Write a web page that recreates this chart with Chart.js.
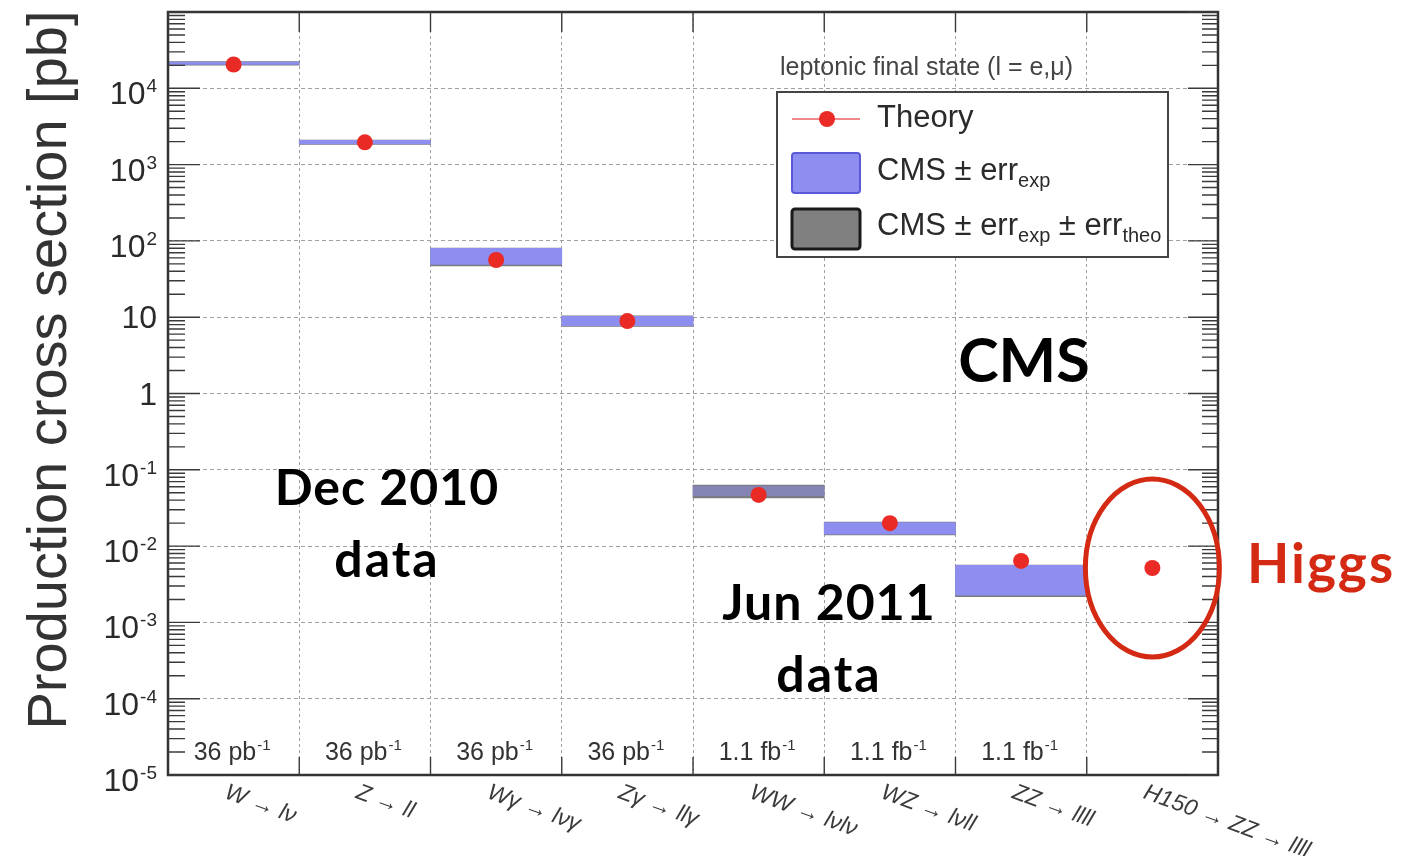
<!DOCTYPE html>
<html>
<head>
<meta charset="utf-8">
<title>Production cross sections</title>
<script src="https://cdn.jsdelivr.net/npm/chart.js@4.4.1/dist/chart.umd.min.js"></script>
<style>
  html, body { margin: 0; padding: 0; background: #ffffff; }
  #wrap { width: 1422px; height: 856px; position: relative; }
</style>
</head>
<body>
<div id="wrap"><canvas id="xsec" width="1422" height="856"></canvas></div>
<script>
// Processes (leptonic final states) and integrated luminosity per measurement
const processes = ['W → lν', 'Z → ll', 'Wγ → lνγ', 'Zγ → llγ', 'WW → lνlν', 'WZ → lνll', 'ZZ → llll', 'H150 → ZZ → llll'];
const lumiValue = ['36', '36', '36', '36', '1.1', '1.1', '1.1', ''];
const lumiUnit  = ['pb', 'pb', 'pb', 'pb', 'fb', 'fb', 'fb', ''];

// Theory prediction [pb]
const theory   = [20500, 1960, 56.2, 8.9, 0.0468, 0.0200, 0.0064, 0.00516];
// CMS measurement band, experimental uncertainty only [pb]
const expLow   = [20500, 1860, 49.0, 7.75, 0.0455, 0.0143, 0.00228, null];
const expHigh  = [22000, 2080, 80.0, 10.3, 0.0610, 0.0203, 0.00560, null];
// CMS measurement band, experimental and theoretical uncertainty [pb]
const totLow   = [20100, 1834, 46.9, 7.55, 0.0427, 0.0140, 0.00218, null];
const totHigh  = [22400, 2100, 80.7, 10.4, 0.0632, 0.0206, 0.00565, null];

// Decade ticks of the cross-section axis (exponents of 10)
const yTickExponents = [-5, -4, -3, -2, -1, 0, 1, 2, 3, 4];
const yMinExp = -5, yMaxExp = 5;

const annotations = {
  legendTitle: 'leptonic final state (l = e,μ)',
  experiment: 'CMS',
  period1: ['Dec 2010', 'data'],
  period2: ['Jun 2011', 'data'],
  highlight: 'Higgs'
};

const BLUE = '#8e8ef0';
const GREY = '#7a7a7a';
const RED = '#ea2a24';
const HIGGS_RED = '#d42a14';
const INK = '#333333';
const SANS = '"Liberation Sans", Arial, Helvetica, sans-serif';
const BOLD = '"Lato", "Open Sans", sans-serif';

// Blue band is see-through where the total band dominates (WW)
const expColors = processes.map((p, i) => i === 4 ? 'rgba(142,142,240,0.5)' : BLUE);

const bands = (lo, hi) => lo.map((v, i) => (v === null ? null : [v, hi[i]]));

const decor = {
  id: 'decor',
  afterDraw(chart) {
    const { ctx, chartArea: a, scales: { x, y } } = chart;
    ctx.save();

    // ---- frame ----
    ctx.strokeStyle = INK;
    ctx.lineWidth = 2.5;
    ctx.strokeRect(a.left, a.top, a.right - a.left, a.bottom - a.top);

    // ---- y ticks, left and right ----
    ctx.lineWidth = 1.4;
    ctx.strokeStyle = '#3a3a3a';
    ctx.beginPath();
    for (let e = yMinExp; e <= yMaxExp; e++) {
      const py = y.getPixelForValue(Math.pow(10, e));
      ctx.moveTo(a.left, py); ctx.lineTo(a.left + 32, py);
      ctx.moveTo(a.right, py); ctx.lineTo(a.right - 30, py);
      if (e < yMaxExp) {
        for (let k = 2; k <= 9; k++) {
          const pm = y.getPixelForValue(k * Math.pow(10, e));
          ctx.moveTo(a.left, pm); ctx.lineTo(a.left + 17, pm);
          ctx.moveTo(a.right, pm); ctx.lineTo(a.right - 16, pm);
        }
      }
    }
    // x ticks at category boundaries, top and bottom
    const step = (a.right - a.left) / processes.length;
    for (let i = 1; i < processes.length; i++) {
      const px = a.left + i * step;
      ctx.moveTo(px, a.top); ctx.lineTo(px, a.top + 20);
      ctx.moveTo(px, a.bottom); ctx.lineTo(px, a.bottom - 18);
    }
    ctx.stroke();

    // ---- y tick labels ----
    ctx.fillStyle = '#2a2a2a';
    ctx.textAlign = 'right';
    ctx.textBaseline = 'alphabetic';
    const labelRight = 157;
    yTickExponents.forEach(e => {
      const py = y.getPixelForValue(Math.pow(10, e));
      if (e === 0 || e === 1) {
        ctx.font = '32px ' + SANS;
        ctx.fillText(e === 0 ? '1' : '10', labelRight, py + 11);
      } else {
        ctx.font = '19px ' + SANS;
        const sup = String(e);
        ctx.fillText(sup, labelRight, py + 4);
        const w = ctx.measureText(sup).width;
        ctx.font = '32px ' + SANS;
        ctx.fillText('10', labelRight - w - 1, py + 16);
      }
    });

    // ---- y title ----
    ctx.save();
    ctx.translate(66, 370);
    ctx.rotate(-Math.PI / 2);
    ctx.textAlign = 'center';
    ctx.font = '56px ' + SANS;
    ctx.fillStyle = INK;
    ctx.fillText('Production cross section [pb]', 0, 0);
    ctx.restore();

    // ---- luminosity labels inside each column ----
    ctx.fillStyle = INK;
    processes.forEach((p, i) => {
      if (!lumiValue[i]) return;
      const cx = x.getPixelForValue(i);
      const main = lumiValue[i] + ' ' + lumiUnit[i];
      ctx.font = '25px ' + SANS;
      const wm = ctx.measureText(main).width;
      ctx.font = '15px ' + SANS;
      const ws = ctx.measureText('-1').width;
      const x0 = cx - (wm + ws) / 2 - 2;
      ctx.textAlign = 'left';
      ctx.font = '25px ' + SANS;
      ctx.fillText(main, x0, a.bottom - 15);
      ctx.font = '15px ' + SANS;
      ctx.fillText('-1', x0 + wm + 1, a.bottom - 25);
    });

    // ---- process labels, slanted ----
    ctx.fillStyle = '#3a3a3a';
    ctx.font = 'italic 23px ' + SANS;
    ctx.textAlign = 'left';
    ctx.textBaseline = 'top';
    processes.forEach((p, i) => {
      const cx = x.getPixelForValue(i);
      ctx.save();
      ctx.translate(cx - 4, a.bottom + 6);
      ctx.rotate(20 * Math.PI / 180);
      ctx.fillText(p, 0, 0);
      ctx.restore();
    });
    ctx.textBaseline = 'alphabetic';

    // ---- legend ----
    ctx.font = '25px ' + SANS;
    ctx.fillStyle = '#444';
    ctx.textAlign = 'left';
    ctx.fillText(annotations.legendTitle, 780, 75);

    ctx.fillStyle = '#ffffff';
    ctx.fillRect(777, 92, 391, 165);
    ctx.strokeStyle = '#444';
    ctx.lineWidth = 2;
    ctx.strokeRect(777, 92, 391, 165);

    // theory entry
    ctx.strokeStyle = '#f08a8a';
    ctx.lineWidth = 2;
    ctx.beginPath(); ctx.moveTo(792, 119); ctx.lineTo(860, 119); ctx.stroke();
    ctx.fillStyle = RED;
    ctx.beginPath(); ctx.arc(827, 119, 8, 0, Math.PI * 2); ctx.fill();

    // exp band entry
    ctx.fillStyle = BLUE;
    ctx.strokeStyle = '#5a5ad8';
    ctx.lineWidth = 2;
    ctx.beginPath(); ctx.roundRect(792, 153, 68, 40, 3); ctx.fill(); ctx.stroke();

    // total band entry
    ctx.fillStyle = '#808080';
    ctx.strokeStyle = '#1a1a1a';
    ctx.lineWidth = 3;
    ctx.beginPath(); ctx.roundRect(792, 209, 68, 40, 3); ctx.fill(); ctx.stroke();

    const seq = (parts, x0, base) => {
      let xx = x0;
      parts.forEach(([txt, sub]) => {
        ctx.font = (sub ? '20px ' : '31px ') + SANS;
        ctx.fillText(txt, xx, base + (sub ? 7 : 0));
        xx += ctx.measureText(txt).width;
      });
    };
    ctx.fillStyle = '#2a2a2a';
    seq([['Theory', false]], 877, 127);
    seq([['CMS ± err', false], ['exp', true]], 877, 180);
    seq([['CMS ± err', false], ['exp', true], [' ± err', false], ['theo', true]], 877, 235);

    // ---- annotations ----
    ctx.textAlign = 'center';
    ctx.fillStyle = '#000';
    ctx.font = '700 61px ' + BOLD;
    ctx.fillText(annotations.experiment, 1024, 382);
    ctx.font = '700 50px ' + BOLD;
    ctx.letterSpacing = '1px';
    ctx.fillText(annotations.period1[0], 387, 505);
    ctx.fillText(annotations.period2[0], 829, 620);
    ctx.letterSpacing = '2px';
    ctx.fillText(annotations.period1[1], 387, 577);
    ctx.fillText(annotations.period2[1], 829, 692);

    ctx.fillStyle = HIGGS_RED;
    ctx.font = '700 55px ' + BOLD;
    ctx.letterSpacing = '2px';
    ctx.fillText(annotations.highlight, 1321, 583);
    ctx.letterSpacing = '0px';

    // circle around the Higgs prediction
    const hx = x.getPixelForValue(7);
    const hy = y.getPixelForValue(theory[7]);
    ctx.strokeStyle = HIGGS_RED;
    ctx.lineWidth = 5;
    ctx.beginPath();
    ctx.ellipse(hx, hy, 67, 89, 0, 0, Math.PI * 2);
    ctx.stroke();

    ctx.restore();
  }
};

new Chart(document.getElementById('xsec'), {
  data: {
    labels: processes,
    datasets: [
      {
        type: 'line',
        label: 'Theory',
        data: theory,
        showLine: false,
        pointRadius: 8,
        pointHoverRadius: 8,
        pointBackgroundColor: RED,
        pointBorderWidth: 0,
        order: 0
      },
      {
        type: 'bar',
        label: 'CMS ± err_exp',
        data: bands(expLow, expHigh),
        backgroundColor: expColors,
        borderWidth: 0,
        grouped: false,
        barPercentage: 1,
        categoryPercentage: 1,
        order: 1
      },
      {
        type: 'bar',
        label: 'CMS ± err_exp ± err_theo',
        data: bands(totLow, totHigh),
        backgroundColor: GREY,
        borderWidth: 0,
        grouped: false,
        barPercentage: 1,
        categoryPercentage: 1,
        order: 2
      }
    ]
  },
  options: {
    responsive: false,
    animation: false,
    devicePixelRatio: 1,
    layout: { padding: { top: 12, right: 204, left: 0, bottom: 0 } },
    plugins: {
      legend: { display: false },
      tooltip: { enabled: false }
    },
    scales: {
      x: {
        type: 'category',
        offset: true,
        grid: { offset: true, color: '#a0a0a0', lineWidth: 1, drawTicks: false },
        border: { display: false, dash: [3, 3] },
        ticks: { display: false },
        afterFit: s => { s.height = 81; }
      },
      y: {
        type: 'logarithmic',
        min: Math.pow(10, yMinExp),
        max: Math.pow(10, yMaxExp),
        grid: { color: '#a0a0a0', lineWidth: 1, drawTicks: false },
        border: { display: false, dash: [4, 3] },
        ticks: { display: false },
        afterBuildTicks: s => {
          const t = [];
          for (let e = yMinExp; e <= yMaxExp; e++) t.push({ value: Math.pow(10, e) });
          s.ticks = t;
        },
        afterFit: s => { s.width = 168; }
      }
    }
  },
  plugins: [decor]
});
</script>
</body>
</html>
